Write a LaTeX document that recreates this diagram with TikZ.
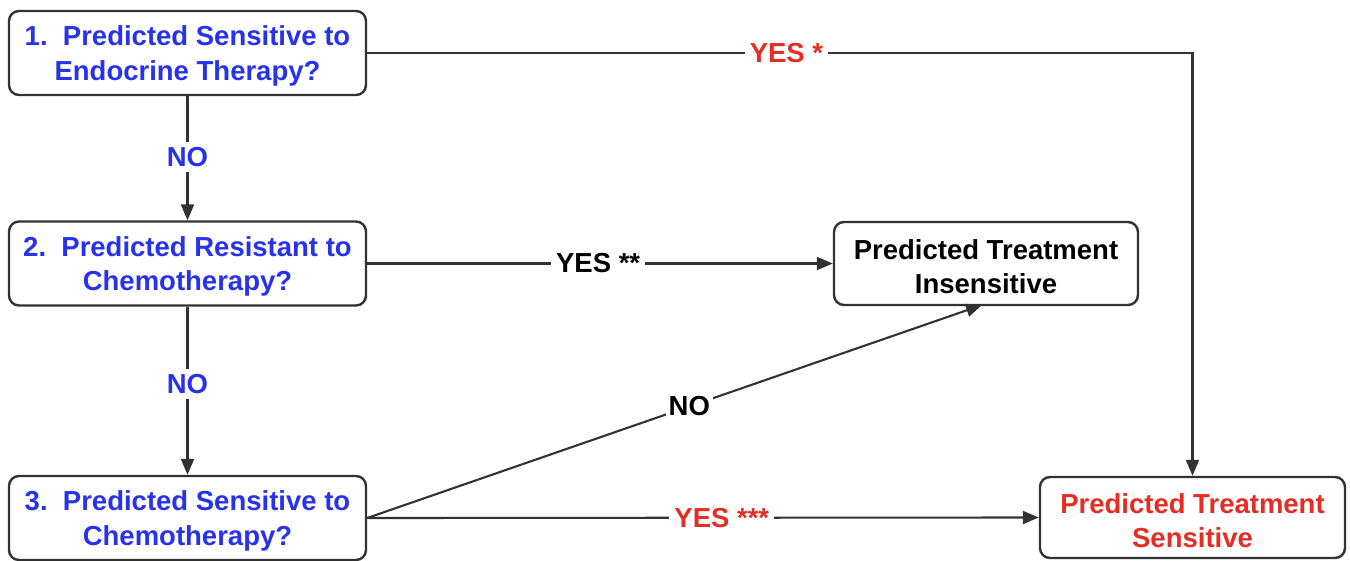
\documentclass[tikz,border=0pt]{standalone}
\usepackage{fontspec}
\setmainfont{Liberation Sans}
\usetikzlibrary{arrows.meta}
\definecolor{qblue}{RGB}{40,50,235}
\definecolor{qred}{RGB}{230,45,35}
\definecolor{qline}{RGB}{50,50,50}
\newcommand{\topstrut}{\rule{0pt}{26pt}}
\tikzset{
  box/.style={draw=qline, line width=2.4pt, rounded corners=10pt, fill=white,
    align=center, inner sep=0pt, font=\fontsize{27.5}{34.5}\selectfont\bfseries},
  leftbox/.style={box, minimum width=357pt, minimum height=84pt, text=qblue},
  conn/.style={draw=qline, line width=2.1pt, -{Triangle[length=16pt,width=13pt]}},
  lbl/.style={fill=white, inner sep=5pt, font=\fontsize{27.5}{32}\selectfont\bfseries}
}
\begin{document}
\begin{tikzpicture}[x=1pt,y=-1pt]
\useasboundingbox (0,0) rectangle (1350,560);
\node[leftbox] (b1) at (187.5,53) {\topstrut 1.\ \ Predicted Sensitive to\\Endocrine Therapy?};
\node[leftbox] (b2) at (187.5,263.5) {\topstrut 2.\ \ Predicted Resistant to\\Chemotherapy?};
\node[leftbox] (b3) at (187.5,518) {\topstrut 3.\ \ Predicted Sensitive to\\Chemotherapy?};
\node[box, minimum width=304pt, minimum height=83pt] (ins) at (986,263.5) {\topstrut Predicted Treatment\\Insensitive};
\node[box, minimum width=305pt, minimum height=81pt, text=qred] (sen) at (1192.5,517.5) {\topstrut Predicted Treatment\\Sensitive};
\coordinate (insb) at (982,305);
\draw[conn] (b1.south) -- node[lbl, text=qblue, pos=0.49] {NO} (b2.north);
\draw[conn] (b2.south) -- node[lbl, text=qblue, pos=0.46] {NO} (b3.north);
\draw[conn] (b1.east) -| node[lbl, text=qred, pos=0.254] {YES *} (sen.north);
\draw[conn] (b2.east) -- node[lbl, pos=0.496] {YES **} (ins.west);
\draw[conn] (b3.east) -- node[lbl, text=qred, pos=0.528] {YES ***} (sen.west);
\draw[conn] (b3.east) -- node[lbl, pos=0.524, inner sep=3pt] {NO} (insb);
\end{tikzpicture}
\end{document}
